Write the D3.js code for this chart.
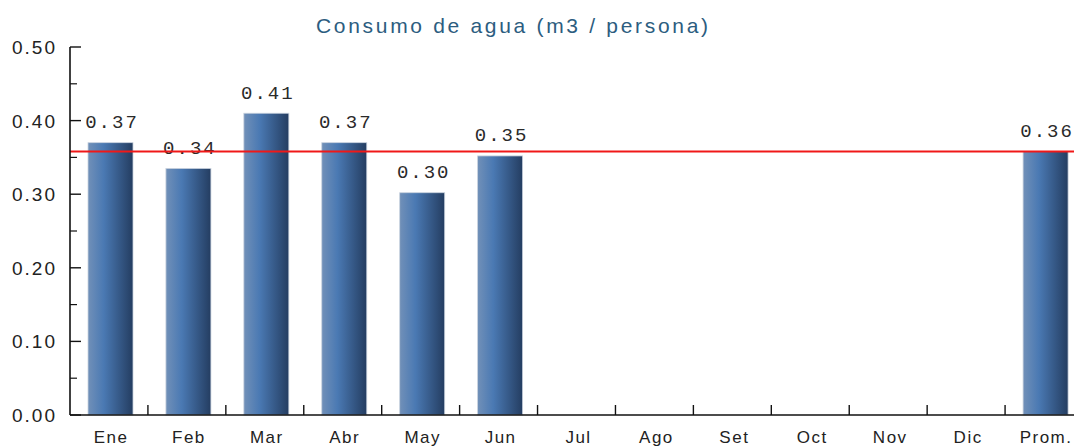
<!DOCTYPE html>
<html>
<head>
<meta charset="utf-8">
<script src="https://cdn.jsdelivr.net/npm/d3@7"></script>
<style>
  body { margin: 0; background: #fff; }
  svg { display: block; }
</style>
</head>
<body>
<div id="chart"></div>
<script>
// data
var months = ["Ene", "Feb", "Mar", "Abr", "May", "Jun", "Jul", "Ago", "Set", "Oct", "Nov", "Dic", "Prom."];
var consumo = [0.37, 0.335, 0.41, 0.37, 0.302, 0.352, null, null, null, null, null, null, 0.358];
var labels = ["0.37", "0.34", "0.41", "0.37", "0.30", "0.35", "", "", "", "", "", "", "0.36"];
var promedio = 0.358;
var yTicks = [0, 0.1, 0.2, 0.3, 0.4, 0.5];
var yMinor = [0.05, 0.15, 0.25, 0.35, 0.45];

var W = 1074, H = 448;
var svg = d3.select("#chart").append("svg").attr("width", W).attr("height", H);

var x = d3.scaleBand().domain(months).range([70, 1083]);
var y = d3.scaleLinear().domain([0, 0.5]).range([415, 47]);

// gradient for the bars
var grad = svg.append("defs").append("linearGradient").attr("id", "barg");
grad.append("stop").attr("offset", "0%").attr("stop-color", "#7190b8");
grad.append("stop").attr("offset", "35%").attr("stop-color", "#4a79b3");
grad.append("stop").attr("offset", "100%").attr("stop-color", "#243d61");

// title
svg.append("text")
  .attr("x", 316).attr("y", 32.5)
  .attr("textLength", 392)
  .attr("lengthAdjust", "spacing")
  .style("font-family", "Liberation Sans, Arial, sans-serif")
  .style("font-size", "21px")
  .attr("fill", "#2c5d80")
  .text("Consumo de agua (m3 / persona)");

// bars
var barData = months.map(function(m, i) { return {m: m, v: consumo[i], l: labels[i]}; })
  .filter(function(d) { return d.v != null; });

svg.selectAll(".bar").data(barData).enter()
  .append("rect")
  .attr("class", "bar")
  .attr("x", function(d) { return x(d.m) + 18; })
  .attr("width", 45)
  .attr("y", function(d) { return y(d.v); })
  .attr("height", function(d) { return y(0) - y(d.v); })
  .attr("fill", "url(#barg)")
  .attr("stroke", "#c9d2de")
  .attr("stroke-width", 0.8);

svg.selectAll(".lbl").data(barData).enter()
  .append("text")
  .attr("class", "lbl")
  .attr("x", function(d) { return x(d.m) + 42; })
  .attr("y", function(d) { return y(d.v) - 14.5; })
  .attr("text-anchor", "middle")
  .style("font-family", "Liberation Mono, DejaVu Sans Mono, monospace")
  .style("font-size", "19px")
  .style("letter-spacing", "2px")
  .attr("fill", "#2a2a2a")
  .text(function(d) { return d.l; });

// average line
svg.append("line")
  .attr("x1", 70).attr("x2", W)
  .attr("y1", y(promedio)).attr("y2", y(promedio))
  .attr("stroke", "#f01818").attr("stroke-width", 2);

// y axis
var yAxis = svg.append("g").attr("transform", "translate(70,0)");
yAxis.append("line").attr("x1", 0).attr("x2", 0).attr("y1", y(0.5)).attr("y2", y(0)).attr("stroke", "#111").attr("stroke-width", 1.6);
yAxis.selectAll(".maj").data(yTicks).enter().append("line")
  .attr("x1", 0).attr("x2", 11)
  .attr("y1", function(d) { return y(d); }).attr("y2", function(d) { return y(d); })
  .attr("stroke", "#111").attr("stroke-width", 1.4);
yAxis.selectAll(".min").data(yMinor).enter().append("line")
  .attr("x1", 0).attr("x2", 7)
  .attr("y1", function(d) { return y(d); }).attr("y2", function(d) { return y(d); })
  .attr("stroke", "#111").attr("stroke-width", 1.2);
yAxis.selectAll(".yl").data(yTicks).enter().append("text")
  .attr("x", -13).attr("y", function(d) { return y(d) + 7; })
  .attr("text-anchor", "end")
  .style("font-family", "Liberation Sans, Arial, sans-serif")
  .style("font-size", "19px")
  .style("letter-spacing", "2px")
  .attr("fill", "#222")
  .text(function(d) { return d3.format(".2f")(d); });

// x axis
var xAxis = svg.append("g");
xAxis.append("line").attr("x1", 70).attr("x2", W).attr("y1", y(0)).attr("y2", y(0)).attr("stroke", "#111").attr("stroke-width", 1.6);
xAxis.selectAll(".xt").data(months.slice(1)).enter().append("line")
  .attr("x1", function(d) { return x(d); }).attr("x2", function(d) { return x(d); })
  .attr("y1", y(0)).attr("y2", y(0) - 10)
  .attr("stroke", "#111").attr("stroke-width", 1.4);
xAxis.selectAll(".xl").data(months).enter().append("text")
  .attr("x", function(d) { return x(d) + 41; })
  .attr("y", 443)
  .attr("text-anchor", "middle")
  .style("font-family", "Liberation Sans, Arial, sans-serif")
  .style("font-size", "17px")
  .style("letter-spacing", "1.5px")
  .attr("fill", "#222")
  .text(function(d) { return d; });
</script>
</body>
</html>
